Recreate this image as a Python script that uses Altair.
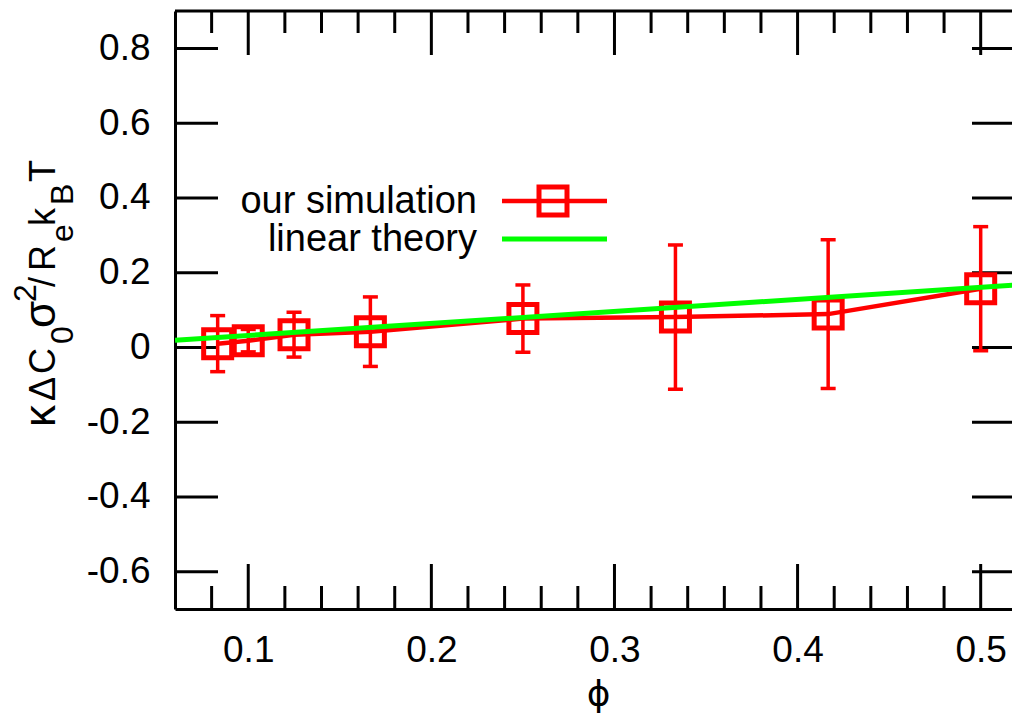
import altair as alt
import pandas as pd

# ---- data ----
phi = [0.0833, 0.1, 0.125, 0.1667, 0.25, 0.3333, 0.4167, 0.5]
sim = [0.010, 0.018, 0.034, 0.042, 0.077, 0.081, 0.089, 0.157]
err = [0.075, 0.030, 0.060, 0.093, 0.090, 0.193, 0.199, 0.166]
phi_theory = [0.06, 0.52]
theory = [0.019, 0.167]
x_major = [0.1, 0.2, 0.3, 0.4, 0.5]
x_minor = [0.08, 0.12, 0.14, 0.16, 0.18, 0.22, 0.24, 0.26, 0.28,
           0.32, 0.34, 0.36, 0.38, 0.42, 0.44, 0.46, 0.48]
y_major = [-0.6, -0.4, -0.2, 0.0, 0.2, 0.4, 0.6, 0.8]

W, H = 837, 598
FONT = "Liberation Sans"
LABEL_FS = 37

sim_df = pd.DataFrame({"phi": phi, "c": sim,
                       "lo": [s - e for s, e in zip(sim, err)],
                       "hi": [s + e for s, e in zip(sim, err)]})
th_df = pd.DataFrame({"phi": phi_theory, "c": theory})
xmaj_df = pd.DataFrame({"phi": x_major})
xmin_df = pd.DataFrame({"phi": x_minor})
ymaj_df = pd.DataFrame({"c": y_major})
one = pd.DataFrame({"k": [0]})

xs = alt.Scale(domain=[0.06, 0.5171], nice=False, zero=False)
ys = alt.Scale(domain=[-0.7, 0.9], nice=False, zero=False)

xaxis = alt.Axis(values=x_major, ticks=False, tickSize=0, grid=False,
                 domain=True, domainColor="black", domainWidth=3,
                 labelFontSize=LABEL_FS, labelColor="black", labelPadding=23,
                 labelFlush=False, labelFont=FONT,
                 labelExpr="toString(round(datum.value*10)/10)",
                 title="ϕ", titleFontSize=36, titleFontWeight="normal",
                 titleColor="black", titleFont="DejaVu Sans", titleX=423, titleY=96,
                 titleBaseline="alphabetic", titleAlign="center")
yaxis = alt.Axis(values=y_major, ticks=False, tickSize=0, grid=False,
                 domain=True, domainColor="black", domainWidth=3,
                 labelFontSize=LABEL_FS, labelColor="black", labelPadding=25,
                 labelFont=FONT, labelFlush=False,
                 labelExpr="datum.value == 0 ? '0' : toString(round(datum.value*10)/10)",
                 title=None)


def X(field="phi"):
    return alt.X(f"{field}:Q", scale=xs, axis=xaxis)


def Y(field="c"):
    return alt.Y(f"{field}:Q", scale=ys, axis=yaxis)


layers = []
# frame top border
layers.append(alt.Chart(one).mark_rule(color="black", strokeWidth=3).encode(
    x=alt.value(0), x2=alt.value(W), y=alt.value(0)))
# ticks
layers.append(alt.Chart(xmaj_df).mark_rule(color="black", strokeWidth=3).encode(
    x=X(), y=alt.value(H - 45), y2=alt.value(H)))
layers.append(alt.Chart(xmaj_df).mark_rule(color="black", strokeWidth=3).encode(
    x=X(), y=alt.value(0), y2=alt.value(44)))
layers.append(alt.Chart(xmin_df).mark_rule(color="black", strokeWidth=3).encode(
    x=X(), y=alt.value(H - 23), y2=alt.value(H)))
layers.append(alt.Chart(xmin_df).mark_rule(color="black", strokeWidth=3).encode(
    x=X(), y=alt.value(0), y2=alt.value(22)))
layers.append(alt.Chart(ymaj_df).mark_rule(color="black", strokeWidth=3).encode(
    y=Y(), x=alt.value(0), x2=alt.value(43)))
layers.append(alt.Chart(ymaj_df).mark_rule(color="black", strokeWidth=3).encode(
    y=Y(), x=alt.value(W - 40), x2=alt.value(W)))

# error bars
layers.append(alt.Chart(sim_df).mark_rule(color="red", strokeWidth=3.5).encode(
    x=X(), y=Y("lo"), y2="hi:Q"))
layers.append(alt.Chart(sim_df).mark_tick(color="red", orient="horizontal", size=15,
                                          thickness=3.5, opacity=1).encode(x=X(), y=Y("lo")))
layers.append(alt.Chart(sim_df).mark_tick(color="red", orient="horizontal", size=15,
                                          thickness=3.5, opacity=1).encode(x=X(), y=Y("hi")))
# simulation line + squares
layers.append(alt.Chart(sim_df).mark_line(color="red", strokeWidth=4.5, clip=True).encode(
    x=X(), y=Y()))
layers.append(alt.Chart(sim_df).mark_point(shape="square", size=784, filled=False,
                                           color="red", strokeWidth=5, opacity=1).encode(
    x=X(), y=Y()))
# linear theory
layers.append(alt.Chart(th_df).mark_line(color="#00ff00", strokeWidth=5, clip=True).encode(
    x=X(), y=Y()))

# legend
layers.append(alt.Chart(one).mark_text(text="our simulation", font=FONT, fontSize=38,
                                       align="right", baseline="alphabetic", color="black").encode(
    x=alt.value(302), y=alt.value(202)))
layers.append(alt.Chart(one).mark_text(text="linear theory", font=FONT, fontSize=38,
                                       align="right", baseline="alphabetic", color="black").encode(
    x=alt.value(302), y=alt.value(240)))
layers.append(alt.Chart(one).mark_rule(color="red", strokeWidth=4.5).encode(
    x=alt.value(327), x2=alt.value(432), y=alt.value(190)))
layers.append(alt.Chart(one).mark_point(shape="square", size=784, filled=False, color="red",
                                        strokeWidth=5, opacity=1).encode(
    x=alt.value(378), y=alt.value(190)))
layers.append(alt.Chart(one).mark_rule(color="#00ff00", strokeWidth=5).encode(
    x=alt.value(327), x2=alt.value(432), y=alt.value(228)))

# y-axis title built from pieces (sub/superscripts)
title_pieces = [("κ", 427, "greek"), ("Δ", 401, "main"), ("C", 374, "main"),
                ("0", 344, "sub"), ("σ", 328, "greek"), ("2", 302, "sup"),
                ("/", 287, "main"), ("R", 271, "main"), ("e", 242, "sub"),
                ("k", 226, "main"), ("B", 205, "sub"), ("T", 182, "main")]
base_x = {"main": -120, "greek": -120, "sub": -102, "sup": -139}
fsize = {"main": 36, "greek": 44, "sub": 32, "sup": 32}
for txt, yabs, role in title_pieces:
    layers.append(alt.Chart(one).mark_text(text=txt, font=FONT, fontSize=fsize[role],
                                           angle=270, align="left", baseline="alphabetic",
                                           color="black").encode(
        x=alt.value(base_x[role]), y=alt.value(yabs - 11)))

chart = alt.layer(*layers).properties(
    width=W, height=H,
    autosize=alt.AutoSizeParams(type="none"),
    padding={"left": 175, "top": 11, "right": 0, "bottom": 104},
    background="white",
).configure_view(strokeWidth=0).configure(font=FONT)

chart.save("out.html", embed_options={"renderer": "svg", "actions": False})
